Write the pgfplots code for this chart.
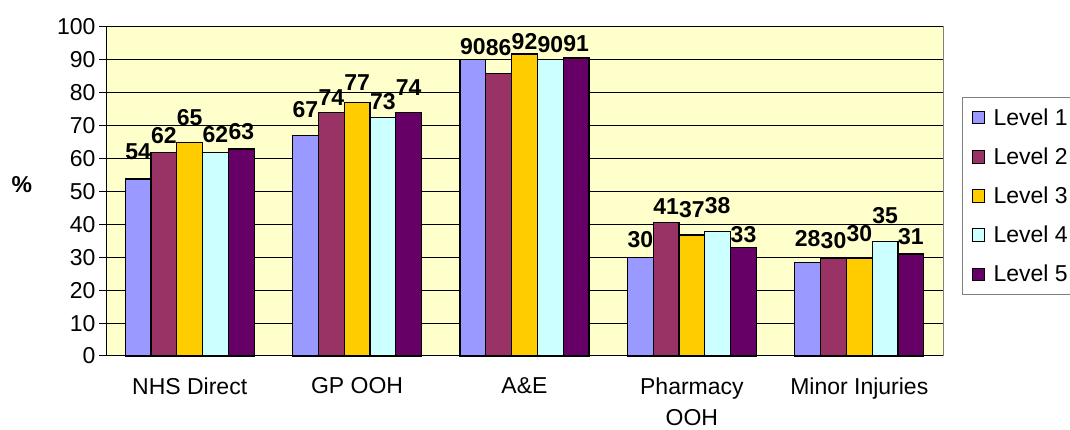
\documentclass[border=0pt]{standalone}
\usepackage{fontspec}
\setmainfont{Liberation Sans}
\usepackage{pgfplots}
\usepackage{pgfplotstable}
\pgfplotsset{compat=1.18}

\definecolor{lvlone}{HTML}{9999FF}
\definecolor{lvltwo}{HTML}{993366}
\definecolor{lvlthree}{HTML}{FFCC00}
\definecolor{lvlfour}{HTML}{CCFFFF}
\definecolor{lvlfive}{HTML}{660066}
\definecolor{bgyellow}{HTML}{FFFFCC}

\pgfplotstableread{
x y lab dy
0 53.8 54 19
1 67 67 17
2 90 90 5
3 30 30 9
4 28.3 28 16
}\levelone
\pgfplotstableread{
x y lab dy
0 61.8 62 8
1 74 74 6
2 85.8 86 17
3 40.5 41 8
4 29.8 30 9
}\leveltwo
\pgfplotstableread{
x y lab dy
0 65 65 16
1 77 77 12
2 91.8 92 4
3 36.8 37 17
4 29.8 30 16
}\levelthree
\pgfplotstableread{
x y lab dy
0 61.8 62 9
1 72.6 73 7
2 90 90 7
3 37.8 38 17
4 34.7 35 17
}\levelfour
\pgfplotstableread{
x y lab dy
0 62.9 63 9
1 74 74 16
2 90.6 91 6
3 32.9 33 4
4 31 31 9
}\levelfive

\newcommand{\bigfont}{\fontsize{23}{31}\selectfont}

\begin{document}
\begin{tikzpicture}
\useasboundingbox (0,0) rectangle (1070pt,430pt);
\begin{axis}[
  at={(106pt,74pt)}, anchor=south west,
  scale only axis, width=837pt, height=329pt,
  xmin=-0.5, xmax=4.5, ymin=0, ymax=100,
  ytick={0,10,...,100},
  xtick={0,1,2,3,4},
  xticklabels={NHS Direct, GP OOH, A\&E, {Pharmacy\\OOH}, Minor Injuries},
  major x tick style={draw=none},
  extra x ticks={-0.5,0.5,1.5,2.5,3.5,4.5},
  extra x tick labels={},
  extra x tick style={grid=none, major tick style={draw=black, line width=1pt}},
  tick align=outside,
  major tick length=7pt,
  ytick style={draw=black, line width=1pt},
  ymajorgrids,
  major grid style={black, line width=1pt},
  axis x line*=bottom, axis y line*=left,
  axis line style={black, line width=1pt, -},
  axis background/.style={fill=bgyellow, draw=gray, line width=1pt},
  /pgf/number format/assume math mode=true,
  ticklabel style={font=\bigfont},
  xticklabel style={align=center, yshift=-11pt},
  ylabel={\%},
  ylabel style={rotate=-90, font=\bigfont\bfseries, at={(axis description cs:-0.1004,0.52)}, anchor=center},
  ybar=0pt, bar width=25.8pt,
  clip=false,
  point meta=explicit,
  nodes near coords,
  visualization depends on={\thisrow{dy} \as \labdy},
  every node near coord/.append style={font=\bigfont\bfseries, inner sep=0pt, anchor=south, yshift=\labdy, text=black},
  legend image code/.code={\path (-6pt,0pt); \draw[#1, draw=black, line width=1pt] (0pt,-6.25pt) rectangle (12.5pt,6.25pt);},
  legend style={at={(1.0227,0.787)}, anchor=north west, draw=gray, line width=1pt, fill=white,
    font=\bigfont, inner xsep=3pt, inner ysep=9pt, row sep=17pt, column sep=8.5pt,
    nodes={inner xsep=0pt, inner ysep=2pt}},
  legend cell align=left,
]
\addplot[fill=lvlone, draw=black, line width=1.2pt] table[x=x, y=y, meta=lab] {\levelone};
\addplot[fill=lvltwo, draw=black, line width=1.2pt] table[x=x, y=y, meta=lab] {\leveltwo};
\addplot[fill=lvlthree, draw=black, line width=1.2pt] table[x=x, y=y, meta=lab] {\levelthree};
\addplot[fill=lvlfour, draw=black, line width=1.2pt] table[x=x, y=y, meta=lab] {\levelfour};
\addplot[fill=lvlfive, draw=black, line width=1.2pt] table[x=x, y=y, meta=lab] {\levelfive};
\legend{Level 1, Level 2, Level 3, Level 4, Level 5}
\end{axis}
\end{tikzpicture}
\end{document}
